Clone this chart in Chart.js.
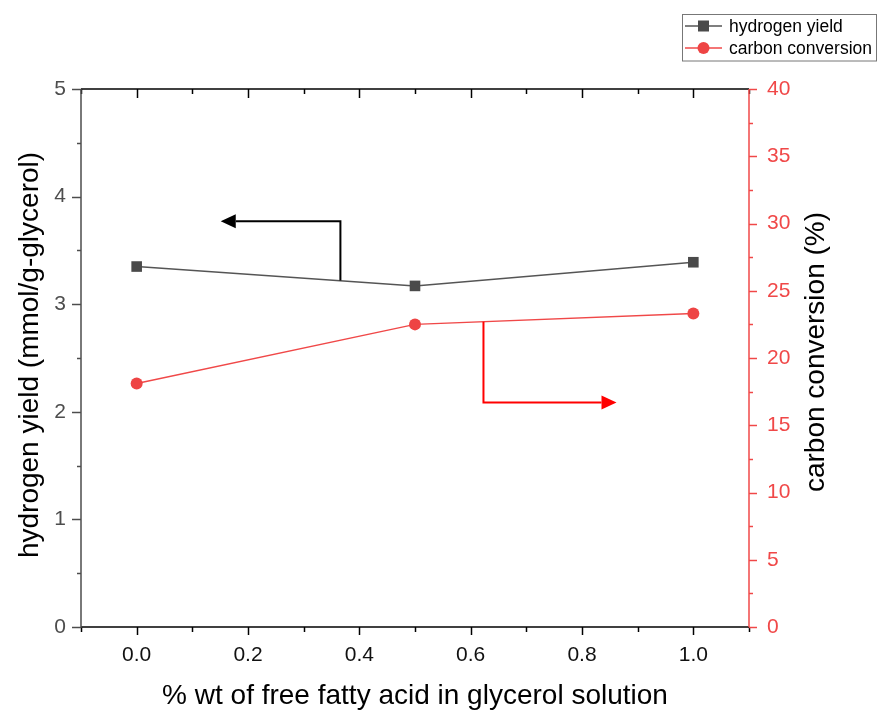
<!DOCTYPE html>
<html>
<head>
<meta charset="utf-8">
<title>Hydrogen yield and carbon conversion</title>
<script src="https://cdn.jsdelivr.net/npm/chart.js@4.4.1/dist/chart.umd.min.js"></script>
<style>
  html, body { margin: 0; padding: 0; background: #fff; }
  #wrap { width: 877px; height: 711px; }
</style>
</head>
<body>
<div id="wrap"><canvas id="ffaChart" width="877" height="711"></canvas></div>
<script>
// FFA content (% wt) and measured results
const ffaContent = [0.0, 0.5, 1.0];
const hydrogenYield = [3.35, 3.17, 3.39];      // mmol/g-glycerol
const carbonConversion = [18.1, 22.5, 23.3];   // %

const xTicks = [0.0, 0.2, 0.4, 0.6, 0.8, 1.0];
const yLeftTicks = [0, 1, 2, 3, 4, 5];
const yRightTicks = [0, 5, 10, 15, 20, 25, 30, 35, 40];

const FONT = '"Liberation Sans", Arial, sans-serif';
const GREY = '#4d4d4d';
const RED = '#f04848';

// hint arrows: [x, y] path in data units, last point is the tip
const leftArrow = [[0.366, 3.22], [0.366, 3.77], [0.151, 3.77]];
const rightArrow = [[0.623, 22.7], [0.623, 16.7], [0.862, 16.7]];

function drawArrow(ctx, pts, color) {
  ctx.save();
  ctx.strokeStyle = color;
  ctx.fillStyle = color;
  ctx.lineWidth = 2;
  const n = pts.length;
  const tip = pts[n - 1], prev = pts[n - 2];
  const ang = Math.atan2(tip[1] - prev[1], tip[0] - prev[0]);
  const headLen = 15, headW = 7;
  const bx = tip[0] - Math.cos(ang) * headLen;
  const by = tip[1] - Math.sin(ang) * headLen;
  ctx.beginPath();
  ctx.moveTo(pts[0][0], pts[0][1]);
  for (let i = 1; i < n - 1; i++) ctx.lineTo(pts[i][0], pts[i][1]);
  ctx.lineTo(bx, by);
  ctx.stroke();
  ctx.beginPath();
  ctx.moveTo(tip[0], tip[1]);
  ctx.lineTo(bx - Math.sin(ang) * headW, by + Math.cos(ang) * headW);
  ctx.lineTo(bx + Math.sin(ang) * headW, by - Math.cos(ang) * headW);
  ctx.closePath();
  ctx.fill();
  ctx.restore();
}

// axis frame, major/minor ticks, titles, arrows and legend
const framePlugin = {
  id: 'frame',
  afterDraw(chart) {
    const ctx = chart.ctx;
    const { left, right, top, bottom } = chart.chartArea;
    const sx = chart.scales.x, sl = chart.scales.y, sr = chart.scales.y1;

    const line = (x1, y1, x2, y2, color, w) => {
      ctx.strokeStyle = color;
      ctx.lineWidth = w || 1.5;
      ctx.beginPath();
      ctx.moveTo(x1, y1);
      ctx.lineTo(x2, y2);
      ctx.stroke();
    };

    ctx.save();
    // bottom & top axes, ticks every 0.1 (major every 0.2)
    for (let i = -1; i <= 11; i++) {
      const v = i / 10;
      const px = Math.round(sx.getPixelForValue(v)) + 0.5;
      const major = i % 2 === 0;
      line(px, bottom, px, bottom + (major ? 8 : 5), '#000');
      line(px, top, px, top + (major ? 9 : 5), '#000');
    }
    // left axis ticks
    for (let i = 0; i <= 10; i++) {
      const py = Math.round(sl.getPixelForValue(i / 2)) + 0.5;
      line(left, py, left - (i % 2 === 0 ? 9 : 4), py, GREY);
    }
    // right axis ticks
    for (let i = 0; i <= 16; i++) {
      const py = Math.round(sr.getPixelForValue(i * 2.5)) + 0.5;
      line(right, py, right + (i % 2 === 0 ? 8 : 4), py, RED);
    }
    line(left, top, right, top, '#000');
    line(left, bottom, right, bottom, '#000');
    line(left, top, left, bottom + 1, GREY);
    line(right, top, right, bottom, RED);

    // axis titles
    ctx.fillStyle = '#000';
    ctx.font = '28px ' + FONT;
    ctx.textAlign = 'center';
    ctx.textBaseline = 'middle';
    ctx.fillText('% wt of free fatty acid in glycerol solution', (left + right) / 2, 696);
    ctx.save();
    ctx.translate(30, 355);
    ctx.rotate(-Math.PI / 2);
    ctx.fillText('hydrogen yield (mmol/g-glycerol)', 0, 0);
    ctx.restore();
    ctx.save();
    ctx.translate(816, 352);
    ctx.rotate(-Math.PI / 2);
    ctx.fillText('carbon conversion (%)', 0, 0);
    ctx.restore();

    // arrows pointing to the matching axis
    drawArrow(ctx, leftArrow.map(p => [sx.getPixelForValue(p[0]), sl.getPixelForValue(p[1])]), '#000');
    drawArrow(ctx, rightArrow.map(p => [sx.getPixelForValue(p[0]), sr.getPixelForValue(p[1])]), '#ff0000');

    // legend box
    ctx.strokeStyle = '#777';
    ctx.lineWidth = 1;
    ctx.strokeRect(682.5, 14.5, 194, 46.5);
    ctx.font = '17.5px ' + FONT;
    ctx.textAlign = 'left';
    chart.data.datasets.forEach((ds, i) => {
      const y = 26 + i * 22;
      line(685, y, 722, y, ds.borderColor, 1.5);
      ctx.fillStyle = ds.pointBackgroundColor;
      if (ds.pointStyle === 'rect') {
        ctx.fillRect(698, y - 5.5, 11, 11);
      } else {
        ctx.beginPath();
        ctx.arc(703.5, y, 6, 0, Math.PI * 2);
        ctx.fill();
      }
      ctx.fillStyle = '#000';
      ctx.fillText(ds.label, 729, y + 1);
    });
    ctx.restore();
  }
};

new Chart(document.getElementById('ffaChart'), {
  type: 'line',
  data: {
    datasets: [
      {
        label: 'hydrogen yield',
        data: ffaContent.map((x, i) => ({ x, y: hydrogenYield[i] })),
        yAxisID: 'y',
        borderColor: '#555555',
        borderWidth: 1.5,
        pointStyle: 'rect',
        pointRadius: 7.5,
        pointBackgroundColor: '#4a4a4a',
        pointBorderWidth: 0,
        tension: 0
      },
      {
        label: 'carbon conversion',
        data: ffaContent.map((x, i) => ({ x, y: carbonConversion[i] })),
        yAxisID: 'y1',
        borderColor: '#f04848',
        borderWidth: 1.5,
        pointStyle: 'circle',
        pointRadius: 6,
        pointBackgroundColor: '#ee4444',
        pointBorderWidth: 0,
        tension: 0
      }
    ]
  },
  options: {
    responsive: false,
    animation: false,
    events: [],
    layout: { padding: { top: 89, left: 0, right: 0, bottom: 0 } },
    plugins: { legend: { display: false }, tooltip: { enabled: false } },
    scales: {
      x: {
        type: 'linear',
        min: -0.1,
        max: 1.1,
        afterBuildTicks: s => { s.ticks = xTicks.map(v => ({ value: v })); },
        afterFit: s => { s.height = 84; },
        grid: { display: false, drawTicks: false },
        border: { display: false },
        ticks: {
          padding: 16,
          color: '#111',
          font: { family: FONT, size: 21 },
          callback: v => v.toFixed(1)
        }
      },
      y: {
        position: 'left',
        min: 0,
        max: 5,
        afterBuildTicks: s => { s.ticks = yLeftTicks.map(v => ({ value: v })); },
        afterFit: s => { s.width = 81; },
        grid: { display: false, drawTicks: false },
        border: { display: false },
        ticks: { padding: 15, color: GREY, font: { family: FONT, size: 21 } }
      },
      y1: {
        position: 'right',
        min: 0,
        max: 40,
        afterBuildTicks: s => { s.ticks = yRightTicks.map(v => ({ value: v })); },
        afterFit: s => { s.width = 128; },
        grid: { display: false, drawTicks: false },
        border: { display: false },
        ticks: { padding: 18, color: RED, font: { family: FONT, size: 21 } }
      }
    }
  },
  plugins: [framePlugin]
});
</script>
</body>
</html>
